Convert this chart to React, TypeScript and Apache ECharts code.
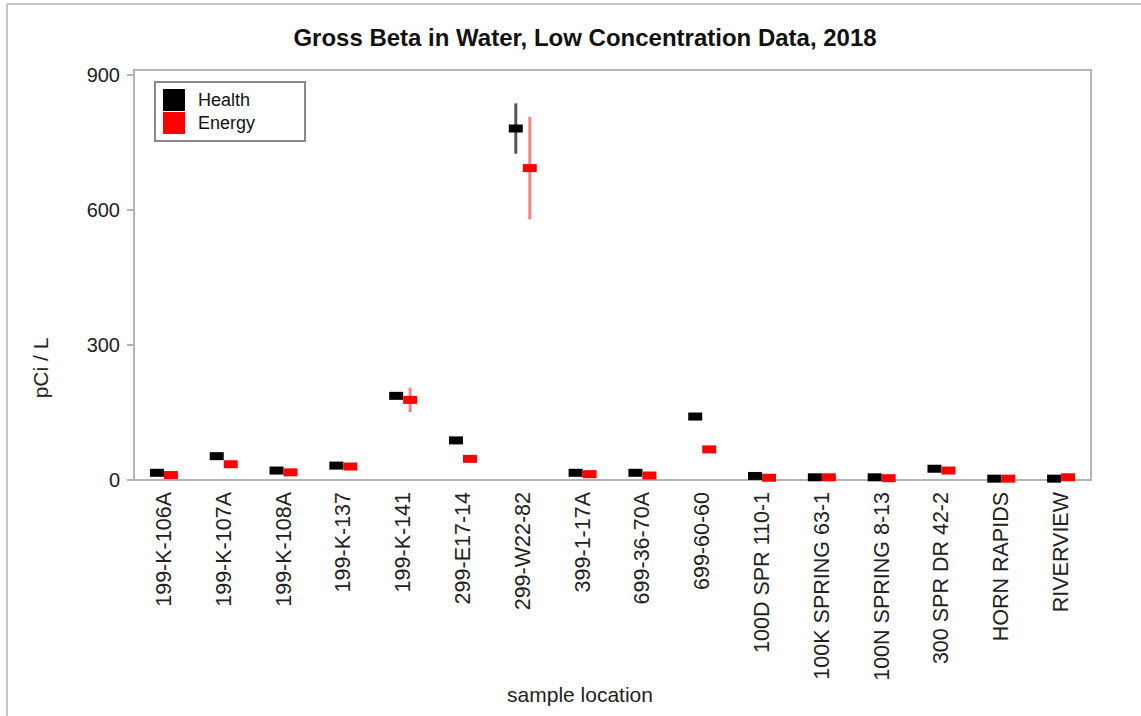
import React, { useEffect, useRef } from "react";
import * as echarts from "echarts";

const categories = [
  "199-K-106A", "199-K-107A", "199-K-108A", "199-K-137", "199-K-141",
  "299-E17-14", "299-W22-82", "399-1-17A", "699-36-70A", "699-60-60",
  "100D SPR 110-1", "100K SPRING 63-1", "100N SPRING 8-13", "300 SPR DR 42-2",
  "HORN RAPIDS", "RIVERVIEW",
];
const healthValues = [16, 53, 21, 32, 187, 88, 781, 16, 16, 141, 9, 6, 6, 25, 3, 3];
const healthErr = [3, 3, 3, 3, 5, 4, 56, 3, 3, 8, 3, 2, 2, 3, 1, 1];
const energyValues = [11, 35, 17, 30, 178, 47, 693, 13, 10, 68, 5, 6, 4, 21, 3, 6];
const energyErr = [3, 3, 3, 3, 27, 4, 114, 3, 3, 8, 2, 2, 2, 3, 1, 1];
const yTicks = [0, 300, 600, 900];
const seriesNames = ["Health", "Energy"];

const FONT = "'Liberation Sans', Arial, sans-serif";

export default function App() {
  const ref = useRef<HTMLDivElement>(null);
  useEffect(() => {
    if (!ref.current) return;
    const chart = echarts.init(ref.current, null, { renderer: "svg" });
    const errData = (vals: number[], errs: number[]) =>
      vals.map((v, i) => [i, v - errs[i], v + errs[i]]);
    const errSeries = (name: string, vals: number[], errs: number[], color: string, dx: number) => ({
      type: "custom",
      name: name + " err",
      data: errData(vals, errs),
      encode: { x: 0, y: [1, 2] },
      z: 2,
      silent: true,
      renderItem: (params: any, api: any) => {
        const lo = api.coord([api.value(0), api.value(1)]);
        const hi = api.coord([api.value(0), api.value(2)]);
        return {
          type: "line",
          shape: { x1: lo[0] + dx, y1: lo[1], x2: hi[0] + dx, y2: hi[1] },
          style: { stroke: color, lineWidth: 3 },
        };
      },
    });
    chart.setOption({
      animation: false,
      backgroundColor: "#ffffff",
      title: {
        text: "Gross Beta in Water, Low Concentration Data, 2018",
        left: 580,
        textAlign: "center",
        top: 20,
        textStyle: { fontFamily: FONT, fontSize: 24, fontWeight: "bold", color: "#111" },
      },
      legend: {
        orient: "vertical",
        left: 155,
        top: 82,
        data: seriesNames.map((n) => ({ name: n, icon: "rect" })),
        itemWidth: 22,
        itemHeight: 22,
        itemGap: 1,
        padding: [7, 50, 7, 8],
        borderColor: "#888",
        borderWidth: 2,
        backgroundColor: "#fff",
        itemStyle: { opacity: 1 },
        textStyle: { fontFamily: FONT, fontSize: 18, color: "#111", padding: [0, 0, 0, 8] },
      },
      grid: {
        left: 134,
        right: 50,
        top: 70,
        bottom: 236,
        show: true,
        borderColor: "#b4b4b4",
        borderWidth: 2,
      },
      xAxis: {
        type: "category",
        data: categories,
        boundaryGap: true,
        axisLine: { lineStyle: { color: "#b4b4b4", width: 2 } },
        axisTick: { alignWithLabel: true, length: 8, lineStyle: { color: "#b4b4b4", width: 2 } },
        axisLabel: {
          rotate: 90,
          interval: 0,
          margin: 12,
          fontFamily: FONT,
          fontSize: 21.5,
          color: "#222",
        },
      },
      yAxis: {
        type: "value",
        min: 0,
        max: 911,
        interval: 300,
        splitLine: { show: false },
        axisLine: { show: true, lineStyle: { color: "#b4b4b4", width: 2 } },
        axisTick: { show: true, length: 7, customValues: yTicks, lineStyle: { color: "#b4b4b4", width: 2 } },
        axisLabel: { customValues: yTicks, margin: 14, fontFamily: FONT, fontSize: 20, color: "#222" },
      },
      graphic: [
        { type: "line", shape: { x1: 7, y1: 4, x2: 1141, y2: 4 }, style: { stroke: "#c4c4c4", lineWidth: 2 } },
        { type: "line", shape: { x1: 7, y1: 4, x2: 7, y2: 716 }, style: { stroke: "#c4c4c4", lineWidth: 2 } },
        {
          type: "text",
          x: 40,
          y: 368,
          rotation: Math.PI / 2,
          style: { text: "pCi / L", fontFamily: FONT, fontSize: 21, fill: "#222", align: "center", verticalAlign: "middle" },
        },
        {
          type: "text",
          x: 580,
          y: 694,
          style: { text: "sample location", fontFamily: FONT, fontSize: 21, fill: "#222", align: "center", verticalAlign: "middle" },
        },
      ],
      series: [
        errSeries("Health", healthValues, healthErr, "#555555", -7),
        errSeries("Energy", energyValues, energyErr, "#ff8080", 7),
        {
          type: "scatter",
          name: "Health",
          data: healthValues,
          symbol: "rect",
          symbolSize: [14, 8],
          symbolOffset: [-7, 0],
          itemStyle: { color: "#000000", opacity: 1 },
          z: 3,
        },
        {
          type: "scatter",
          name: "Energy",
          data: energyValues,
          symbol: "rect",
          symbolSize: [14, 8],
          symbolOffset: [7, 0],
          itemStyle: { color: "#ff0000", opacity: 1 },
          z: 3,
        },
      ],
    });
    return () => chart.dispose();
  }, []);
  return <div ref={ref} style={{ position: "fixed", left: 0, top: 0, width: 1141, height: 716 }} />;
}
